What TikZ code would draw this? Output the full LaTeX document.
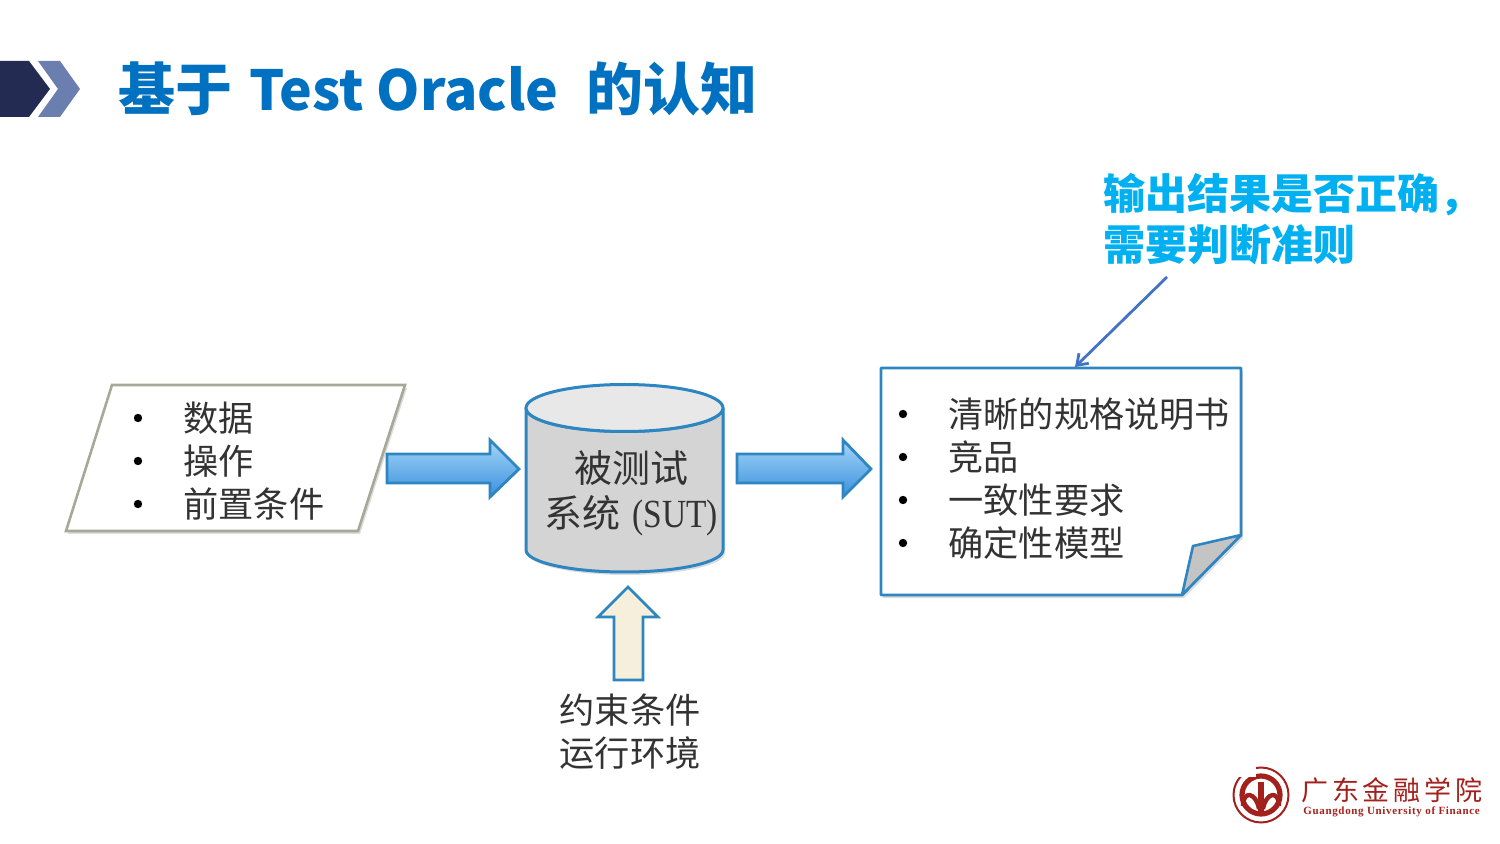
\documentclass[tikz,border=0pt]{standalone}
\usepackage{fontspec}
\setmainfont{Noto Sans CJK SC}
\newfontfamily\serifpart{Liberation Serif}
\newfontfamily\serifwide[LetterSpace=6]{Liberation Serif}
\newfontfamily\logocjk[LetterSpace=14]{Noto Sans CJK SC}
\usetikzlibrary{shadows,arrows.meta}
\definecolor{navy}{HTML}{242B52}
\definecolor{steel}{HTML}{6A7FB0}
\definecolor{titleblue}{HTML}{0070C0}
\definecolor{cyanblue}{HTML}{00B0F0}
\definecolor{edgeblue}{HTML}{2E86C1}
\definecolor{pointer}{HTML}{4472C4}
\definecolor{seal}{HTML}{A3211C}
\definecolor{arrowtop}{HTML}{A4D6F7}
\definecolor{arrowmid}{HTML}{66B4EE}
\definecolor{arrowbot}{HTML}{3A90DE}
\definecolor{paleedge}{HTML}{A8A898}
\definecolor{cream}{HTML}{F6EFDC}
\tikzset{
 softshadow/.style={drop shadow={shadow xshift=1pt,shadow yshift=-1.5pt,opacity=.28}},
 blockarrow/.style={draw=edgeblue,line width=1.4pt,line join=miter,top color=arrowtop,middle color=arrowmid,bottom color=arrowbot},
 bodytext/.style={anchor=west,inner sep=0pt,font=\fontsize{17.6}{20}\selectfont,text=black!80},
 listdot/.style={circle,fill=black,inner sep=0pt,minimum size=4.2pt},
 centertext/.style={anchor=center,inner sep=0pt,font=\fontsize{17.6}{20}\selectfont,text=black!80},
 suttext/.style={anchor=center,inner sep=0pt,font=\fontsize{19}{22}\selectfont,text=black!80},
 logopart/.style={seal,line width=1.3pt},
}
\begin{document}
\begin{tikzpicture}[x=0.5pt,y=-0.5pt]
\useasboundingbox (0,0) rectangle (1500,844);
% header
\fill[navy] (0,61) -- (29,61) -- (50,89) -- (29,117) -- (0,117) -- cycle;
\fill[steel] (38,61) -- (60,61) -- (80,89) -- (60,117) -- (38,117) -- (58,89) -- cycle;
\node[anchor=west,inner sep=0pt,text=titleblue,font=\fontsize{28.5}{32}\bfseries\selectfont] (title) at (118,89) {基于\hspace{8.5pt}{\fontsize{27.6}{32}\selectfont Test Oracle}\hspace{14pt}的认知};
% callout
\node[anchor=north west,inner sep=0pt,align=left,text=cyanblue,font=\fontsize{21}{25.5}\bfseries\selectfont] (callout) at (1103,173) {输出结果是否正确，\\需要判断准则};
% input parallelogram
\path[fill=white,draw=paleedge,line width=1.3pt,softshadow] (112,385) -- (405,385) -- (358,531) -- (66,531) -- cycle;
\node[listdot] (d1) at (138,418) {};
\node[listdot] (d2) at (138,461) {};
\node[listdot] (d3) at (138,504) {};
\node[bodytext] (i1) at (183,418) {数据};
\node[bodytext] (i2) at (183,461) {操作};
\node[bodytext] (i3) at (183,504) {前置条件};
% arrows
\path[blockarrow] (387,454) -- (490,454) -- (490,440) -- (519,469) -- (490,497) -- (490,483) -- (387,483) -- cycle;
\path[blockarrow] (737,454) -- (843,454) -- (843,440) -- (871,469) -- (843,497) -- (843,483) -- (737,483) -- cycle;
% cylinder
\path[fill=black!17,draw=edgeblue,line width=1.5pt,line join=round,softshadow] (526,408) -- (526,550) arc[start angle=180,end angle=0,x radius=98.5,y radius=22] -- (723,408) arc[start angle=0,end angle=180,x radius=98.5,y radius=23.5] -- cycle;
\path[fill=black!9,draw=edgeblue,line width=1.5pt] (624.5,408) ellipse[x radius=98.5,y radius=23.5];
\node[suttext] (sut1) at (631,468) {被测试};
\node[suttext] (sut2) at (631,516) {系统\hspace{6pt}\scalebox{.88}[1.05]{\serifpart (SUT)}};
% up arrow
\path[fill=cream,draw=edgeblue,line width=1.4pt] (628,587) -- (658,617) -- (643,617) -- (643,680) -- (614,680) -- (614,617) -- (598,617) -- cycle;
\node[centertext] (c1) at (630,710) {约束条件};
\node[centertext] (c2) at (630,753) {运行环境};
% document
\path[fill=white,draw=edgeblue,line width=1.3pt,line join=round,softshadow] (881,368) -- (1241,368) -- (1241,535) -- (1182,595) -- (881,595) -- cycle;
\path[fill=black!23,draw=edgeblue,line width=1.3pt,line join=round] (1241,535) -- (1193,546) -- (1182,595) -- cycle;
\node[listdot] (e1) at (903,414) {};
\node[listdot] (e2) at (903,457) {};
\node[listdot] (e3) at (903,500) {};
\node[listdot] (e4) at (903,543) {};
\node[bodytext] (o1) at (948,414) {清晰的规格说明书};
\node[bodytext] (o2) at (948,457) {竞品};
\node[bodytext] (o3) at (948,500) {一致性要求};
\node[bodytext] (o4) at (948,543) {确定性模型};
% pointer
\coordinate (calloutfoot) at (1167,277);
\coordinate (doctop) at (1075,367);
\draw[pointer,line width=1.4pt,-{Straight Barb[length=5pt,width=7pt]}] (calloutfoot) -- (doctop);
% logo
\draw[logopart,line width=1pt] (1261,795) circle[radius=27.5];
\draw[logopart,line width=2.6pt] (1261,795) circle[radius=19];
\fill[white] (1232,766) rectangle (1256,777);
\draw[logopart,line width=2.2pt] (1243,806) .. controls (1243,790) and (1256,792) .. (1259,809);
\draw[logopart,line width=2.2pt] (1279,806) .. controls (1279,790) and (1266,792) .. (1263,809);
\fill[seal] (1258,782) rectangle (1264,812);
\node[anchor=west,inner sep=0pt,text=seal,font=\logocjk\fontsize{13.5}{15}\selectfont] (logoname) at (1301,790) {\itshape 广东金融学院};
\node[anchor=west,inner sep=0pt,text=seal,font=\serifwide\fontsize{5.5}{6}\bfseries\selectfont] (logoen) at (1303,811.5) {Guangdong University of Finance};
\end{tikzpicture}
\end{document}
